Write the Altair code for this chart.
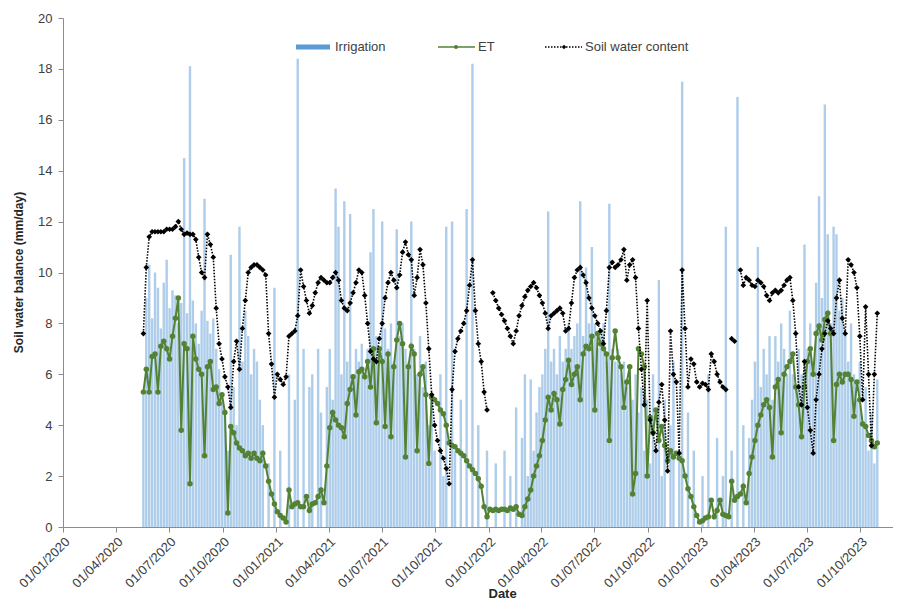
import altair as alt
import pandas as pd

# ---- data (one value every 5 days from 18/05/2020) ----
start_date = "2020-05-18"
step = "5D"

irrigation = [
    5.2, 9.0, 10.3, 8.2, 10.0, 9.4, 7.8, 9.6, 10.5, 8.6,
    9.3, 9.1, 8.0, 8.8, 14.5, 8.4, 18.1, 8.9, 8.0, 7.2,
    8.5, 12.9, 8.1, 7.6, 8.2, 7.0, 6.2, 5.0, 4.5, 3.0,
    10.7, 5.5, 4.0, 11.8, 6.5, 8.5, 7.5, 6.0, 7.0, 6.5,
    5.0, 4.0, 0, 2.5, 0, 9.4, 0, 3.0, 0, 0,
    6.0, 0, 5.0, 18.4, 0, 7.0, 0, 5.5, 6.0, 0,
    7.0, 4.5, 0, 5.5, 7.0, 5.0, 13.3, 11.8, 6.0, 12.8,
    6.5, 12.3, 6.0, 7.0, 6.5, 7.2, 6.0, 7.0, 10.8, 12.5,
    7.5, 6.8, 12.0, 7.8, 7.0, 8.0, 6.5, 11.7, 7.5, 8.0,
    7.0, 6.5, 12.0, 7.0, 6.0, 7.5, 5.5, 6.5, 4.0, 5.0,
    3.0, 0, 6.0, 2.0, 11.8, 0, 12.0, 3.0, 0, 5.0,
    0, 12.5, 0, 18.2, 0, 4.0, 0, 0, 3.0, 0,
    0, 2.5, 0, 0, 3.0, 0, 2.0, 0, 4.7, 0,
    3.5, 6.0, 2.0, 5.8, 3.0, 4.5, 5.5, 6.0, 7.0, 12.4,
    6.5, 7.0, 6.0, 7.5, 6.5, 7.0, 8.0, 7.0, 7.5, 8.0,
    12.8, 7.5, 10.2, 8.0, 11.0, 8.0, 7.0, 7.5, 8.0, 6.5,
    12.7, 7.0, 6.5, 7.0, 6.0, 6.5, 5.5, 6.0, 5.0, 6.0,
    4.5, 5.5, 3.0, 5.0, 2.5, 6.0, 3.0, 9.7, 2.0, 5.0,
    0, 4.0, 6.5, 0, 3.0, 17.5, 0, 4.5, 0, 3.0,
    0, 0, 2.0, 0, 6.0, 0, 0, 3.5, 0, 2.0,
    11.8, 0, 3.0, 0, 16.9, 0, 4.0, 0, 3.5, 5.0,
    6.5, 11.0, 5.5, 7.0, 6.0, 7.5, 5.0, 7.5, 6.5, 8.0,
    7.0, 6.0, 8.5, 6.0, 5.5, 7.0, 6.0, 11.1, 7.0, 8.0,
    6.5, 9.6, 13.0, 9.0, 16.6, 11.5, 8.0, 11.8, 11.5, 8.5,
    9.0, 7.5, 6.5, 8.0, 6.0, 5.0, 6.5, 4.0, 5.5, 3.0,
    4.5, 2.5, 5.8,
]

et = [
    5.3, 6.2, 5.3, 6.7, 6.8, 5.3, 7.1, 7.3, 7.0, 6.6,
    7.5, 8.2, 9.0, 3.8, 7.2, 7.0, 1.7, 7.5, 6.6, 6.2,
    6.0, 2.8, 6.3, 6.5, 5.4, 5.5, 4.85, 5.2, 4.5, 0.55,
    3.95, 3.7, 3.3, 3.1, 3.0, 2.8, 2.9, 2.7, 2.9, 2.7,
    2.6, 2.9, 2.4, 1.8, 1.3, 0.9, 0.6, 0.45, 0.35, 0.2,
    1.45, 0.8, 0.9, 0.95, 0.8, 0.8, 1.2, 0.65, 0.9, 0.95,
    1.2, 1.45, 0.95, 2.4, 3.9, 4.5, 4.2, 4.0, 3.9, 3.55,
    4.85, 5.4, 5.9, 4.4, 6.1, 6.2, 5.9, 6.5, 5.5, 7.0,
    4.1, 7.0, 6.5, 3.95, 6.8, 3.55, 6.3, 7.35, 8.0, 7.2,
    2.75, 6.3, 7.1, 6.8, 3.0, 6.0, 6.3, 5.2, 2.5, 5.1,
    5.0, 4.85, 4.6, 4.45, 4.0, 3.3, 3.2, 3.15, 3.0, 2.9,
    2.8, 2.6, 2.4, 2.25, 2.1, 1.9, 1.6, 0.8, 0.4, 0.7,
    0.65, 0.7, 0.65, 0.7, 0.7, 0.65, 0.75, 0.7, 0.8, 0.5,
    0.45, 0.8, 1.1, 1.45, 2.0, 2.4, 2.8, 3.4, 4.2, 5.1,
    4.6, 5.25, 5.0, 4.05, 5.4, 5.8, 6.55, 5.6, 6.0, 6.3,
    5.0, 6.8, 7.1, 7.0, 7.5, 4.6, 7.6, 7.2, 7.0, 6.8,
    3.4, 6.65, 7.7, 6.65, 6.3, 4.7, 5.7, 6.3, 1.3, 2.1,
    7.0, 6.8, 6.3, 2.0, 4.3, 3.7, 4.6, 3.4, 3.95, 3.2,
    2.6, 3.0, 2.75, 2.9, 2.7, 2.6, 2.0, 1.5, 1.2, 0.8,
    0.45, 0.2, 0.25, 0.35, 0.4, 1.05, 0.4, 0.65, 1.05, 0.5,
    0.45, 0.4, 1.8, 1.05, 1.2, 1.3, 1.6, 0.95, 2.1, 2.75,
    3.4, 4.0, 4.4, 4.8, 5.0, 4.7, 2.75, 5.5, 5.8, 3.7,
    6.0, 6.3, 6.5, 6.8, 5.5, 4.8, 3.55, 5.5, 6.5, 7.0,
    6.0, 7.6, 7.9, 7.35, 8.15, 8.4, 7.6, 3.4, 5.6, 6.0,
    5.7, 6.0, 6.0, 5.8, 4.35, 5.7, 5.0, 4.05, 3.95, 3.6,
    3.4, 3.15, 3.3,
]

soil_water = [
    7.6, 10.2, 11.4, 11.6, 11.6, 11.6, 11.6, 11.6, 11.7, 11.7,
    11.7, 11.8, 12.0, 11.7, 11.5, 11.55, 11.5, 11.5, 11.3, 10.6,
    10.0, 9.8, 11.5, 11.1, 10.6, 8.6, 7.2, 6.6, 5.9, 5.5,
    4.7, 6.5, 7.3, 6.2, 7.8, 8.9, 10.0, 10.2, 10.3, 10.3,
    10.2, 10.1, 9.9, 7.6, 6.4, 5.1, 6.0, 5.8, 5.6, 5.9,
    7.5, 7.6, 7.7, 8.3, 10.1, 9.45, 8.9, 8.4, 8.7, 9.2,
    9.6, 9.8, 9.7, 9.6, 9.6, 9.8, 10.0, 9.7, 8.9, 8.6,
    8.5, 8.8, 9.2, 9.6, 10.1, 10.0, 9.1, 8.0, 6.9, 6.6,
    6.5, 7.4, 8.0, 9.0, 9.6, 10.0, 9.7, 9.4, 9.9, 10.8,
    11.2, 10.7, 10.5, 9.1, 9.8, 10.9, 10.3, 8.8, 7.0, 5.2,
    4.0, 3.4, 3.0, 2.7, 2.3, 1.7, 5.4, 6.9, 7.4, 7.7,
    8.0, 8.5, 9.5, 10.5, 8.5, 7.2, 6.5, 5.3, 4.6, None,
    9.2, 8.9, 8.6, 8.35, 8.1, 7.8, 7.5, 7.2, 7.7, 8.3,
    8.7, 9.05, 9.3, 9.45, 9.6, 9.4, 9.1, 8.8, 8.4, 7.8,
    8.3, 8.4, 8.5, 8.6, 8.4, 7.7, 7.8, 8.8, 9.8, 10.1,
    10.2, 9.9, 9.6, 9.0, 8.6, 8.3, 8.0, 7.7, 7.2, 8.5,
    10.2, 10.4, 10.2, 10.3, 10.5, 10.9, 9.7, 10.3, 10.5, 9.8,
    7.8, 6.2, 4.8, 8.9, 4.2, 3.7, 3.0, 4.9, 5.6, 4.2,
    2.2, 7.7, 6.0, 5.7, 2.9, 10.1, 7.8, 5.5, 6.6, 6.4,
    5.7, 5.5, 5.65, 5.6, 5.4, 6.8, 6.5, 6.0, 5.7, 5.5,
    5.4, None, 7.4, 7.3, None, 10.1, 9.5, 9.8, 9.7, 9.5,
    9.45, 9.7, 9.6, 9.45, 9.1, 8.9, 9.2, 9.3, 9.2, 9.3,
    9.5, 9.7, 9.8, 8.9, 7.6, 5.5, 4.8, 6.5, 4.7, 3.8,
    2.9, 5.0, 6.0, 7.0, 7.6, 8.1, 7.8, 7.6, 9.0, 9.7,
    8.2, 7.6, 10.5, 10.3, 10.0, 9.4, 7.5, 5.0, 8.65, 6.0,
    3.2, 6.0, 8.4,
]

tick_dates = [
    (2020, 1), (2020, 4), (2020, 7), (2020, 10),
    (2021, 1), (2021, 4), (2021, 7), (2021, 10),
    (2022, 1), (2022, 4), (2022, 7), (2022, 10),
    (2023, 1), (2023, 4), (2023, 7), (2023, 10),
]

# ---- tables ----
dates = pd.date_range(start_date, periods=len(et), freq=step).strftime("%Y-%m-%d")
df = pd.DataFrame({"date": dates, "irrigation": irrigation, "et": et, "swc": soil_water})
df["seg"] = df["swc"].isna().cumsum()
irr_df = df[df["irrigation"] > 0]
swc_df = df[df["swc"].notna()]

FONT = "Liberation Sans"
AXIS_COL = "#8c8c8c"
LAB_COL = "#404040"
BLUE = "#5B9BD5"
GREEN = "#548235"

x_scale = alt.Scale(
    type="utc",
    domain=[alt.DateTime(year=2020, month=1, date=1, utc=True),
            alt.DateTime(year=2023, month=11, date=26, utc=True)],
)
y_scale = alt.Scale(domain=[0, 20], nice=False)

x_axis = alt.Axis(
    values=[alt.DateTime(year=y, month=m, date=1, utc=True) for y, m in tick_dates],
    format="%d/%m/%Y", labelAngle=315, labelAlign="right", labelBaseline="top",
    labelFont=FONT, labelFontSize=13, labelColor=LAB_COL, labelPadding=3,
    labelOverlap=False, grid=False, domainColor=AXIS_COL, tickColor=AXIS_COL, tickSize=5,
    title="Date", titleFont=FONT, titleFontSize=13, titleFontWeight="bold",
    titleColor="#262626", titleX=425, titleY=60, titleBaseline="top", titleAnchor="start",
)
y_axis = alt.Axis(
    values=list(range(0, 21, 2)), grid=False, domainColor=AXIS_COL, tickColor=AXIS_COL,
    tickSize=5, labelFont=FONT, labelFontSize=13, labelColor=LAB_COL, labelPadding=6,
    title="Soil water balance (mm/day)", titleFont=FONT, titleFontSize=12,
    titleFontWeight="bold", titleColor="#262626", titleX=-38, titleY=254,
)

bars = alt.Chart(irr_df).mark_rule(strokeWidth=2.4, color=BLUE, opacity=0.5).encode(
    x=alt.X("date:T", scale=x_scale, axis=x_axis),
    y=alt.Y("irrigation:Q", scale=y_scale, axis=y_axis),
    y2=alt.datum(0),
)

et_line = alt.Chart(df).mark_line(color=GREEN, strokeWidth=2).encode(
    x=alt.X("date:T", scale=x_scale), y=alt.Y("et:Q", scale=y_scale)
)
et_pts = alt.Chart(df).mark_point(shape="circle", filled=True, size=30, color=GREEN, opacity=1).encode(
    x=alt.X("date:T", scale=x_scale), y=alt.Y("et:Q", scale=y_scale)
)

swc_line = alt.Chart(swc_df).mark_line(color="black", strokeWidth=1.6, strokeDash=[1.5, 1.5]).encode(
    x=alt.X("date:T", scale=x_scale), y=alt.Y("swc:Q", scale=y_scale), detail="seg:N"
)
swc_pts = alt.Chart(swc_df).mark_point(shape="diamond", filled=True, size=32, color="black", opacity=1).encode(
    x=alt.X("date:T", scale=x_scale), y=alt.Y("swc:Q", scale=y_scale)
)

# ---- manual legend ----
one = pd.DataFrame({"k": [0]})
LY = 29
leg = [
    alt.Chart(one).mark_rule(color=BLUE, strokeWidth=5).encode(
        x=alt.value(233), x2=alt.value(267), y=alt.value(LY)),
    alt.Chart(one).mark_text(text="Irrigation", align="left", baseline="middle",
                             font=FONT, fontSize=13, color=LAB_COL).encode(
        x=alt.value(272), y=alt.value(LY)),
    alt.Chart(one).mark_rule(color=GREEN, strokeWidth=1.6).encode(
        x=alt.value(375), x2=alt.value(412), y=alt.value(LY)),
    alt.Chart(one).mark_point(shape="circle", filled=True, size=18, color=GREEN, opacity=1).encode(
        x=alt.value(393), y=alt.value(LY)),
    alt.Chart(one).mark_text(text="ET", align="left", baseline="middle",
                             font=FONT, fontSize=13, color=LAB_COL).encode(
        x=alt.value(415), y=alt.value(LY)),
    alt.Chart(one).mark_rule(color="black", strokeWidth=1.4, strokeDash=[1.5, 1.5]).encode(
        x=alt.value(482), x2=alt.value(519), y=alt.value(LY)),
    alt.Chart(one).mark_point(shape="diamond", filled=True, size=20, color="black", opacity=1).encode(
        x=alt.value(501), y=alt.value(LY)),
    alt.Chart(one).mark_text(text="Soil water content", align="left", baseline="middle",
                             font=FONT, fontSize=13, color=LAB_COL).encode(
        x=alt.value(522), y=alt.value(LY)),
]

chart = alt.layer(bars, et_line, et_pts, swc_line, swc_pts, *leg).properties(
    width=830, height=509,
    autosize=alt.AutoSizeParams(type="none"),
    padding={"left": 55, "top": 10, "right": 0, "bottom": 78},
    background="white",
).configure_view(stroke=None)

chart.save("out.html", embed_options={"renderer": "svg", "actions": False})
